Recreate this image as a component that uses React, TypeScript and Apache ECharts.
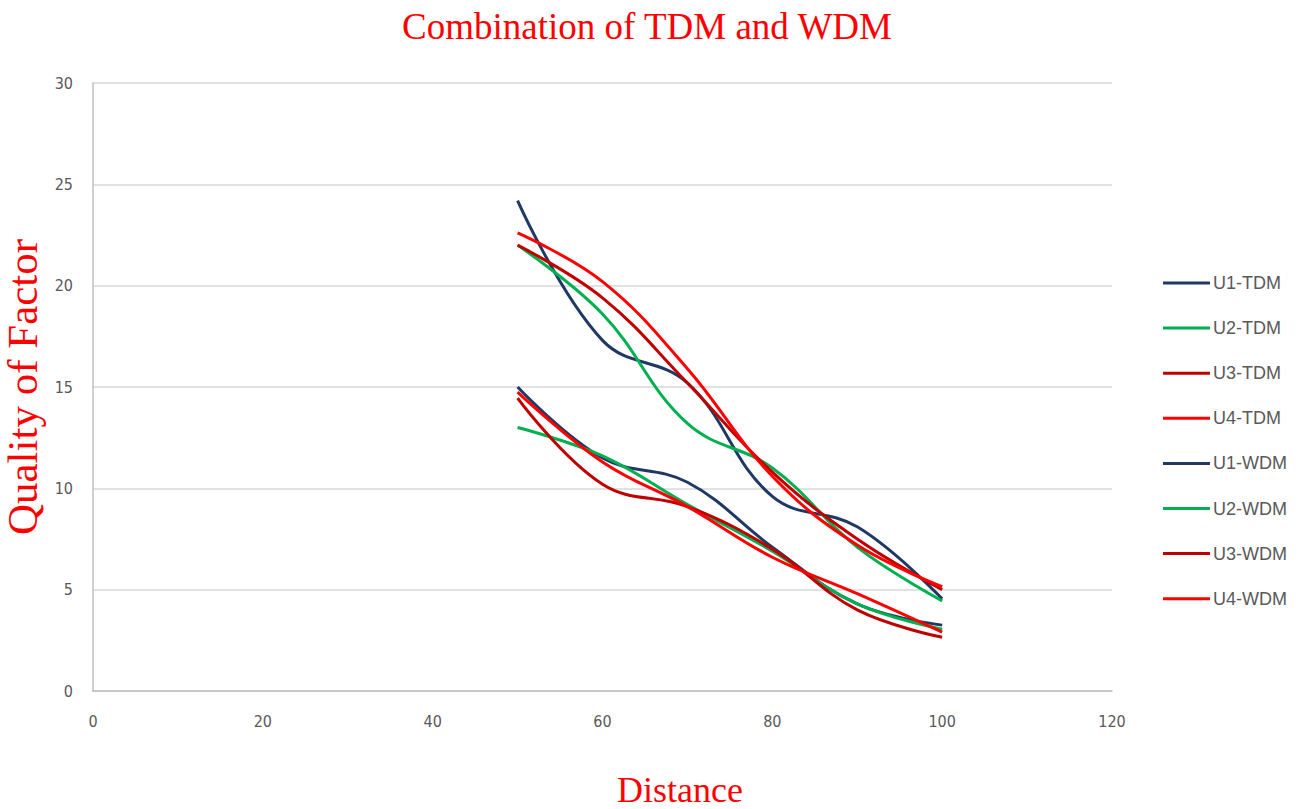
import React, { useEffect, useRef } from "react";
import * as echarts from "echarts";

const distances = [50, 60, 70, 80, 90, 100];
const u1Tdm = [24.2, 17.3, 15.2, 9.6, 8.1, 4.55];
const u2Tdm = [22.0, 18.6, 13.2, 11.0, 7.1, 4.45];
const u3Tdm = [22.0, 19.4, 15.2, 10.8, 7.5, 5.0];
const u4Tdm = [22.6, 20.2, 15.9, 10.6, 7.2, 5.15];
const u1Wdm = [15.0, 11.5, 10.3, 7.1, 4.3, 3.25];
const u2Wdm = [13.0, 11.6, 9.2, 6.9, 4.3, 3.05];
const u3Wdm = [14.45, 10.2, 9.1, 7.0, 4.0, 2.65];
const u4Wdm = [14.75, 11.3, 9.1, 6.6, 4.8, 2.9];

const seriesNames = ["U1-TDM", "U2-TDM", "U3-TDM", "U4-TDM", "U1-WDM", "U2-WDM", "U3-WDM", "U4-WDM"];
const seriesValues = [u1Tdm, u2Tdm, u3Tdm, u4Tdm, u1Wdm, u2Wdm, u3Wdm, u4Wdm];
const seriesColors = ["#1f3864", "#00b050", "#c00000", "#ff0000", "#1f3864", "#00b050", "#c00000", "#ff0000"];

const title = "Combination of TDM and WDM";
const yName = "Quality of Factor";
const xName = "Distance";

export default function App() {
  const ref = useRef<HTMLDivElement>(null);
  useEffect(() => {
    if (!ref.current) return;
    const chart = echarts.init(ref.current, null, { renderer: "svg" });
    const tickFont = "'DejaVu Sans Condensed', 'Liberation Sans Narrow', 'Liberation Sans', sans-serif";
    const serif = "'Liberation Serif', 'Times New Roman', serif";
    chart.setOption({
      animation: false,
      backgroundColor: "#ffffff",
      title: {
        text: title,
        left: 642,
        top: 3,
        textAlign: "center",
        textStyle: {
          color: "#ff0000",
          fontFamily: serif,
          fontSize: 37,
          fontWeight: "normal",
        },
      },
      grid: {
        left: 93,
        right: 198,
        top: 83,
        bottom: 118,
        containLabel: false,
        outerBoundsMode: "none",
      },
      legend: {
        orient: "vertical",
        left: 1163,
        top: 273,
        padding: 0,
        icon: "rect",
        itemWidth: 47,
        itemHeight: 3,
        itemGap: 25.1,
        data: seriesNames,
        textStyle: {
          color: "#595959",
          fontSize: 18,
          lineHeight: 20,
          fontFamily: "'Liberation Sans', Arial, sans-serif",
          padding: [0, 0, 0, -2],
        },
      },
      xAxis: {
        type: "value",
        min: 0,
        max: 120,
        interval: 20,
        axisLine: { show: true, lineStyle: { color: "#bfbfbf", width: 1.5 } },
        axisTick: { show: false },
        splitLine: { show: false },
        axisLabel: { color: "#595959", fontSize: 16, fontFamily: tickFont, margin: 22 },
      },
      yAxis: {
        type: "value",
        min: 0,
        max: 30,
        interval: 5,
        name: yName,
        nameLocation: "middle",
        nameGap: 42,
        nameTextStyle: {
          color: "#ff0000",
          fontFamily: serif,
          fontSize: 43,
        },
        axisLine: { show: true, lineStyle: { color: "#bfbfbf", width: 1.5 } },
        axisTick: { show: false },
        splitLine: { show: true, lineStyle: { color: "#d9d9d9", width: 1.5 } },
        axisLabel: { color: "#595959", fontSize: 16, fontFamily: tickFont, margin: 20 },
      },
      graphic: [
        {
          type: "text",
          left: 617,
          top: 772,
          style: {
            text: xName,
            fill: "#ff0000",
            font: "36px 'Liberation Serif', 'Times New Roman', serif",
          },
        },
      ],
      series: seriesNames.map((name, i) => ({
        name,
        type: "line",
        smooth: 0.4,
        symbol: "none",
        lineStyle: { color: seriesColors[i], width: 3 },
        itemStyle: { color: seriesColors[i] },
        data: distances.map((d, j) => [d, seriesValues[i][j]]),
      })),
    });
    return () => chart.dispose();
  }, []);
  return <div ref={ref} style={{ position: "fixed", left: 0, top: 0, width: 1310, height: 809 }} />;
}
